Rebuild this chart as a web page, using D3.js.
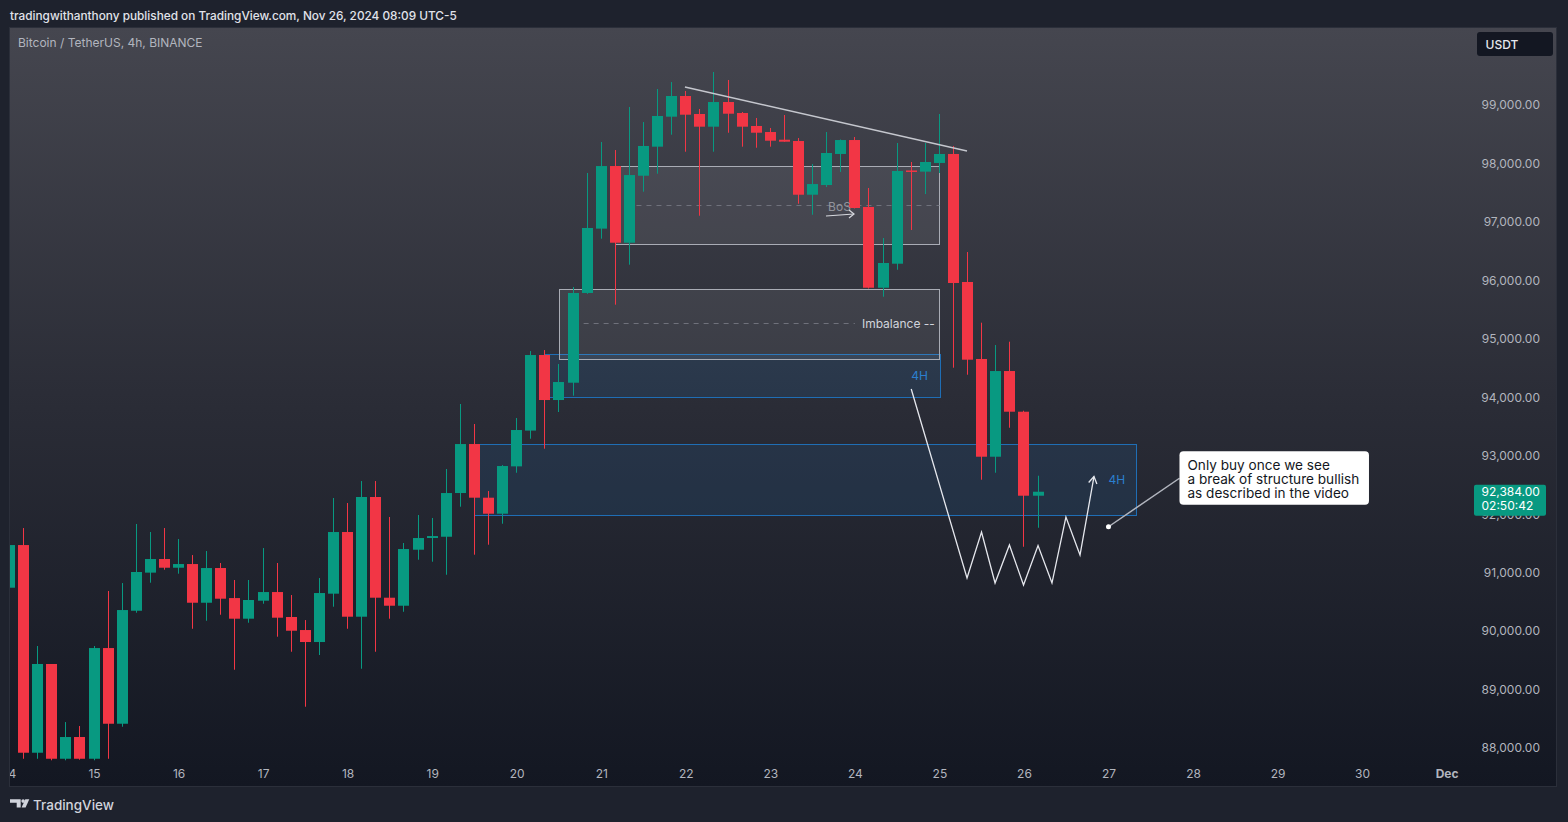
<!DOCTYPE html>
<html><head><meta charset="utf-8">
<script src="https://cdn.jsdelivr.net/npm/d3@7/dist/d3.min.js"></script>
<style>
html,body{margin:0;padding:0;background:#1e222d;overflow:hidden;}
svg{display:block;font-family:Inter,"Noto Sans",sans-serif;}
</style></head><body>
<svg id="chart" width="1568" height="822"></svg>
<script>
// ---------- DATA (4h candles, index 0 = Nov 15 00:00) ----------
const startIndex = -6;
const opens = [90742,91472,87919,89437,87816,88188,87816,89710,88415,90348,91000,91233,91084,91147,90485,91079,90565,90212,90520,90668,90241,90018,89813,90640,91695,90246,92294,90571,90434,91392,91592,91614,92362,93200,92282,92008,92818,93430,94723,93953,94249,95784,96885,97956,96644,97790,98287,98800,99154,98846,98629,99051,98863,98641,98538,98406,98384,97465,97631,98162,98401,97255,95874,96285,97880,97860,98008,98162,95972,94655,92983,94449,93753,92316];
const highs = [91472,91763,89745,89437,88444,88376,89745,90686,90822,91832,91695,91763,91575,91301,91370,91165,90874,90874,91421,91165,90617,90189,90908,92277,92191,92567,92567,91952,91507,91986,91935,92773,93885,93543,92396,92840,93645,94791,94808,94569,95886,97837,98367,98230,98966,98709,99274,99393,99240,98932,99565,99428,98880,98778,98607,98829,98435,97991,98538,98410,98453,97580,96725,98350,98025,98350,98846,98299,96485,95276,94894,94951,93770,92658];
const lows = [90742,87816,87816,87790,87790,87800,87790,87816,88364,90314,90828,91050,90982,90040,90177,90280,89339,90143,90468,89904,89647,88706,89591,90417,90040,89356,89647,90212,90331,91221,91187,90964,92128,91307,91478,91837,92709,93291,93120,93748,94027,95770,96713,95584,96268,97517,97825,98492,98201,97106,98201,98526,98287,98269,98287,98370,97311,97123,97597,97854,97230,95860,95720,96182,96862,97477,97837,94506,94386,92590,92709,93479,91443,91768];
const closes = [91472,87919,89437,87816,88188,87816,89710,88415,90360,91011,91233,91084,91147,90485,91079,90554,90212,90532,90668,90229,90006,89813,90651,91695,90246,92294,90571,90434,91404,91592,91626,92362,93200,92282,92008,92824,93440,94723,93953,94261,95784,96896,97956,96644,97802,98299,98812,99154,98834,98629,99051,98851,98629,98526,98389,98372,97465,97648,98179,98401,97238,95874,96297,97871,97860,98025,98162,95955,94643,92983,94449,93753,92316,92384];

const dayTicks = [-6,0,6,12,18,24,30,36,42,48,54,60,66,72,78,84,90,96];
const dayLabels = ["14","15","16","17","18","19","20","21","22","23","24","25","26","27","28","29","30","Dec"];
const priceTicks = [88000,89000,90000,91000,92000,93000,94000,95000,96000,97000,98000,99000];
const lastPrice = 92384;
const countdown = "02:50:42";

// zones: [t0, t1, top price, bottom price]
const bosZone = [37, 60, 97956, 96622];
const bosMid = [38.5, 60, 97284];
const imbalanceZone = [33, 60, 95860, 94660];
const imbalanceMid = [34.75, 54, 95270];
const upper4H = [32, 60, 94735, 94000];
const lower4H = [27, 74, 93195, 91986];
const label4H = [[58.6, 94381], [72.6, 92585]];
const trendT = [41.94, 61.96];
const trendP = [99308, 98213];
const zigT = [58, 61.96, 62.99, 63.95, 64.97, 65.97, 67, 67.99, 68.98, 69.98, 70.97];
const zigP = [94141, 90908, 91695, 90822, 91473, 90788, 91464, 90822, 91951, 91301, 92644];
const bosArrowT = [51.95, 53.94];
const bosArrowP = [97101, 97135];
const bosText = [52.1, 97180];
const calloutAnchor = [72, 91785];
const calloutLines = ["Only buy once we see", "a break of structure bullish", "as described in the video"];

// ---------- SCALES ----------
const x = d3.scaleLinear().domain([0, 96]).range([94, 94 + 96 * 14.09]);
const y = d3.scaleLinear().domain([88000, 99000]).range([748, 105]);

const svg = d3.select("#chart");
const defs = svg.append("defs");
const grad = defs.append("linearGradient").attr("id", "bg").attr("x1", 0).attr("y1", 0).attr("x2", 0).attr("y2", 1);
grad.append("stop").attr("offset", "0%").attr("stop-color", "#45464f");
grad.append("stop").attr("offset", "50%").attr("stop-color", "#2a2c36");
grad.append("stop").attr("offset", "100%").attr("stop-color", "#131722");
defs.append("clipPath").attr("id", "plotclip").append("rect")
  .attr("x", 10).attr("y", 27).attr("width", 1458).attr("height", 759);

svg.append("rect").attr("width", 1568).attr("height", 822).attr("fill", "#1e222d");
svg.append("rect").attr("x", 9.5).attr("y", 27.5).attr("width", 1547).attr("height", 759)
  .attr("fill", "url(#bg)").attr("stroke", "#2b2f3a").attr("stroke-width", 1);

svg.append("text").attr("x", 10).attr("y", 20).attr("fill", "#e1e3ea")
  .attr("font-size", 11.8).attr("font-weight", 500)
  .text("tradingwithanthony published on TradingView.com, Nov 26, 2024 08:09 UTC-5");
svg.append("text").attr("x", 18).attr("y", 47).attr("fill", "#b2b5be")
  .attr("font-size", 12).text("Bitcoin / TetherUS, 4h, BINANCE");

const plot = svg.append("g").attr("clip-path", "url(#plotclip)");

function zone(z, fill, stroke) {
  plot.append("rect")
    .attr("x", Math.round(x(z[0])) + 0.5).attr("y", Math.round(y(z[2])) + 0.5)
    .attr("width", Math.round(x(z[1]) - x(z[0])))
    .attr("height", Math.round(y(z[3]) - y(z[2])))
    .attr("fill", fill).attr("stroke", stroke).attr("stroke-width", 1);
}
zone(lower4H, "rgba(33,150,243,0.10)", "#1f6eb5");
zone(upper4H, "rgba(33,150,243,0.10)", "#1f6eb5");
zone(imbalanceZone, "rgba(255,255,255,0.07)", "#a9acb5");
zone(bosZone, "rgba(255,255,255,0.07)", "#a9acb5");

plot.append("line").attr("x1", x(bosMid[0])).attr("x2", x(bosMid[1]))
  .attr("y1", Math.round(y(bosMid[2])) + 0.5).attr("y2", Math.round(y(bosMid[2])) + 0.5)
  .attr("stroke", "#6f717b").attr("stroke-dasharray", "5,5");
plot.append("line").attr("x1", x(imbalanceMid[0])).attr("x2", x(imbalanceMid[1]))
  .attr("y1", Math.round(y(imbalanceMid[2])) + 0.5).attr("y2", Math.round(y(imbalanceMid[2])) + 0.5)
  .attr("stroke", "#6f717b").attr("stroke-dasharray", "5,5");

// ---------- CANDLES ----------
const candles = opens.map((o, i) => ({ t: startIndex + i, o, h: highs[i], l: lows[i], c: closes[i] }));
const up = "#089981", down = "#f23645";
const cg = plot.append("g");
const cEnter = cg.selectAll("g.c").data(candles).join("g").attr("class", "c");
cEnter.append("rect")
  .attr("x", d => Math.round(x(d.t) - 5.5) + 5)
  .attr("width", 1)
  .attr("y", d => y(d.h))
  .attr("height", d => Math.max(1, y(d.l) - y(d.h)))
  .attr("fill", d => d.c >= d.o ? up : down);
cEnter.append("rect")
  .attr("x", d => Math.round(x(d.t) - 5.5))
  .attr("width", 11)
  .attr("y", d => y(Math.max(d.o, d.c)))
  .attr("height", d => Math.max(1.5, Math.abs(y(d.o) - y(d.c))))
  .attr("fill", d => d.c >= d.o ? up : down);

// ---------- DRAWINGS ----------
plot.append("text").attr("x", x(imbalanceMid[1]) + 80).attr("y", y(imbalanceMid[2]) + 4.5)
  .attr("text-anchor", "end").attr("fill", "#d1d4dc").attr("font-size", 12).text("Imbalance --");

plot.selectAll("text.h4").data(label4H).join("text").attr("class", "h4")
  .attr("x", d => x(d[0])).attr("y", d => y(d[1]) + 4.5)
  .attr("text-anchor", "middle").attr("fill", "#2b7fcf").attr("font-size", 12).text("4H");

plot.append("text").attr("x", x(bosText[0])).attr("y", y(bosText[1]))
  .attr("fill", "#9b9da5").attr("font-size", 12).attr("opacity", 0.9).text("BoS");

const line = d3.line().x(d => x(d[0])).y(d => y(d[1]));
const bosPts = bosArrowT.map((t, i) => [t, bosArrowP[i]]);
plot.append("path").attr("d", line(bosPts)).attr("stroke", "#d6d8de").attr("stroke-width", 1.2).attr("fill", "none");
{
  const ex = x(bosArrowT[1]), ey = y(bosArrowP[1]);
  plot.append("path").attr("d", `M${ex - 5},${ey - 4}L${ex},${ey}L${ex - 5},${ey + 4}`)
    .attr("stroke", "#d6d8de").attr("stroke-width", 1.2).attr("fill", "none");
}

plot.append("path").attr("d", line(trendT.map((t, i) => [t, trendP[i]])))
  .attr("stroke", "#c5c7ce").attr("stroke-width", 1.4).attr("fill", "none");

const zig = zigT.map((t, i) => [t, zigP[i]]);
plot.append("path").attr("d", line(zig)).attr("stroke", "#e6e8ee").attr("stroke-width", 1.3)
  .attr("fill", "none").attr("stroke-linejoin", "miter");
{
  const n = zig.length;
  const tx = x(zig[n - 1][0]), ty = y(zig[n - 1][1]);
  const fx = x(zig[n - 2][0]), fy = y(zig[n - 2][1]);
  const ang = Math.atan2(ty - fy, tx - fx);
  const L = 8, a = 0.55;
  const p1 = [tx - L * Math.cos(ang - a), ty - L * Math.sin(ang - a)];
  const p2 = [tx - L * Math.cos(ang + a), ty - L * Math.sin(ang + a)];
  plot.append("path").attr("d", `M${p1[0]},${p1[1]}L${tx},${ty}L${p2[0]},${p2[1]}`)
    .attr("stroke", "#e6e8ee").attr("stroke-width", 1.3).attr("fill", "none");
}

// callout
{
  const ax = x(calloutAnchor[0]), ay = y(calloutAnchor[1]);
  const bx = ax + 71, by = ay - 75.5, bw = 189.5, bh = 53.5;
  plot.append("line").attr("x1", ax).attr("y1", ay).attr("x2", bx).attr("y2", by + 27)
    .attr("stroke", "#b2b5be").attr("stroke-width", 1.5);
  plot.append("circle").attr("cx", ax).attr("cy", ay).attr("r", 2.5).attr("fill", "#ffffff");
  plot.append("rect").attr("x", bx).attr("y", by).attr("width", bw).attr("height", bh)
    .attr("rx", 4).attr("fill", "#ffffff");
  plot.selectAll("text.co").data(calloutLines).join("text").attr("class", "co")
    .attr("x", bx + 8).attr("y", (d, i) => by + 18.5 + i * 14)
    .attr("fill", "#131722").attr("font-size", 13.6).text(d => d);
}

// ---------- AXES ----------
const yAxis = d3.axisLeft(y).tickValues(priceTicks).tickSize(0).tickPadding(0)
  .tickFormat(d3.format(",.2f"));
const gy = svg.append("g").attr("transform", "translate(1540,0)").call(yAxis);
gy.select(".domain").remove();
gy.selectAll("text").attr("fill", "#b2b5be").attr("font-size", 12).attr("font-family", "Inter,sans-serif");

const xAxis = d3.axisBottom(x).tickValues(dayTicks).tickSize(0).tickPadding(3)
  .tickFormat((d, i) => dayLabels[i]);
const gx = svg.append("g").attr("clip-path", "url(#plotclip)").append("g")
  .attr("transform", "translate(0,766)").call(xAxis);
gx.select(".domain").remove();
gx.selectAll("text").attr("fill", "#b2b5be").attr("font-size", 12).attr("font-family", "Inter,sans-serif")
  .attr("font-weight", (d, i) => dayLabels[i] === "Dec" ? 700 : 400);

// last price label
{
  const py = y(lastPrice);
  svg.append("rect").attr("x", 1474).attr("y", py - 7).attr("width", 72).attr("height", 31)
    .attr("rx", 2).attr("fill", "#089981");
  svg.append("text").attr("x", 1481.5).attr("y", py + 4.5).attr("fill", "#ffffff").attr("font-size", 12)
    .text(d3.format(",.2f")(lastPrice));
  svg.append("text").attr("x", 1481.5).attr("y", py + 18.5).attr("fill", "#ffffff").attr("font-size", 12)
    .text(countdown);
}
svg.append("rect").attr("x", 1477).attr("y", 32).attr("width", 76).attr("height", 24).attr("rx", 3).attr("fill", "#131722");
svg.append("text").attr("x", 1485.5).attr("y", 48.5).attr("fill", "#e6e8ee").attr("font-size", 12).attr("font-weight", 500).text("USDT");

// footer logo
{
  const g = svg.append("g").attr("fill", "#d1d4dc");
  g.append("path").attr("d", "M10,799.3H20.7V807.5H16.7V802.8H10Z");
  g.append("circle").attr("cx", 23.1).attr("cy", 801.1).attr("r", 1.8);
  g.append("path").attr("d", "M25.3,799.3H29.3L25.6,807.5H21.6Z");
  g.append("text").attr("x", 33).attr("y", 810).attr("font-size", 13.5).attr("font-weight", 500).text("TradingView");
}
</script>
</body></html>
